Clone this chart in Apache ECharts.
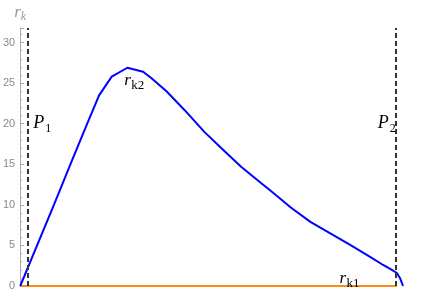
<!DOCTYPE html>
<html><head><meta charset="utf-8">
<script src="https://cdn.jsdelivr.net/npm/echarts@6/dist/echarts.min.js"></script>
<style>html,body{margin:0;padding:0;background:#fff}#c{width:436px;height:294px}</style>
</head><body><div id="c"></div>
<script>
// blue curve r_k2 (x normalised 0..1 along P-axis)
const xBlue = [0, 0.044, 0.088, 0.131, 0.175, 0.206, 0.239, 0.280, 0.321, 0.343, 0.382, 0.429, 0.481, 0.525, 0.577, 0.629, 0.655, 0.681, 0.706, 0.758, 0.810, 0.862, 0.914, 0.948, 0.971, 0.984, 0.992, 1.0];
const rk2   = [0, 5, 10, 15, 20, 23.5, 25.8, 26.9, 26.4, 25.6, 24.0, 21.7, 19.0, 17.0, 14.7, 12.7, 11.7, 10.7, 9.7, 7.9, 6.5, 5.06, 3.58, 2.59, 1.98, 1.6, 0.99, 0];
// orange line r_k1
const xOrange = [0, 0.984];
const rk1 = [0, 0];
// vertical dashed markers
const pMarks = [0.018, 0.984];
const yTicks = [0, 5, 10, 15, 20, 25, 30];

const chart = echarts.init(document.getElementById('c'), null, {renderer: 'canvas'});
const serif = '"Liberation Serif", "DejaVu Serif", serif';
chart.setOption({
  animation: false,
  grid: {left: 18, right: 33, top: 28, bottom: 8},
  xAxis: {type: 'value', min: 0, max: 1, show: false},
  yAxis: {
    type: 'value', min: 0, max: 31.8, interval: 5,
    axisLine: {show: true, lineStyle: {color: '#aaaaaa', width: 1}},
    axisTick: {show: true, inside: true, length: 4, lineStyle: {color: '#aaaaaa'}},
    minorTick: {show: true, splitNumber: 5, length: 2, lineStyle: {color: '#bbbbbb'}},
    splitLine: {show: false},
    axisLabel: {
      margin: 5, color: '#8a8a8a', fontSize: 11, fontFamily: '"Liberation Sans", Arial, sans-serif',
      formatter: v => (yTicks.indexOf(v) >= 0 ? String(v) : '')
    }
  },
  series: [
    {
      type: 'line', data: xOrange.map((x, i) => [x, rk1[i]]), symbol: 'none',
      lineStyle: {color: '#FB8C1E', width: 2}, z: 2,
      markLine: {
        silent: true, symbol: 'none', label: {show: false},
        lineStyle: {color: '#333333', width: 2, type: [5, 3]},
        data: pMarks.map(x => ({xAxis: x}))
      }
    },
    {
      type: 'line', data: xBlue.map((x, i) => [x, rk2[i]]), symbol: 'none',
      lineStyle: {color: '#0000FF', width: 2}, z: 3
    }
  ]
});

function px(x, y) { return chart.convertToPixel({gridIndex: 0}, [x, y]); }
function label(main, sub, x, y, opts) {
  const p = px(x, y);
  const ital = opts && opts.italicSize || 17;
  const subSize = opts && opts.subSize || 12;
  const subDx = opts && opts.subDx || 0;
  return [
    {type: 'text', x: p[0], y: p[1], style: {text: main, font: 'italic ' + ital + 'px ' + serif, fill: '#000', textAlign: 'left', textVerticalAlign: 'middle'}, z: 10},
    {type: 'text', x: p[0] + subDx, y: p[1] + 5, style: {text: sub, font: subSize + 'px ' + serif, fill: '#000', textAlign: 'left', textVerticalAlign: 'middle'}, z: 10}
  ];
}
const g = [];
g.push(...label('P', '1', 0.034, 20.0, {italicSize: 18, subSize: 12, subDx: 12}));
g.push(...label('P', '2', 0.934, 20.0, {italicSize: 18, subSize: 12, subDx: 12}));
g.push(...label('r', 'k2', 0.272, 25.3, {italicSize: 17, subSize: 13, subDx: 7}));
g.push(...label('r', 'k1', 0.834, 0.9, {italicSize: 17, subSize: 13, subDx: 7}));
// axis name r_k
const axTop = px(0, 31.8);
g.push({type: 'text', x: axTop[0] - 6, y: axTop[1] - 15, style: {text: 'r', font: 'italic 17px ' + serif, fill: '#999', textAlign: 'left', textVerticalAlign: 'middle'}});
g.push({type: 'text', x: axTop[0] + 0.5, y: axTop[1] - 11, style: {text: 'k', font: 'italic 12px ' + serif, fill: '#999', textAlign: 'left', textVerticalAlign: 'middle'}});
chart.setOption({graphic: g});
</script></body></html>
